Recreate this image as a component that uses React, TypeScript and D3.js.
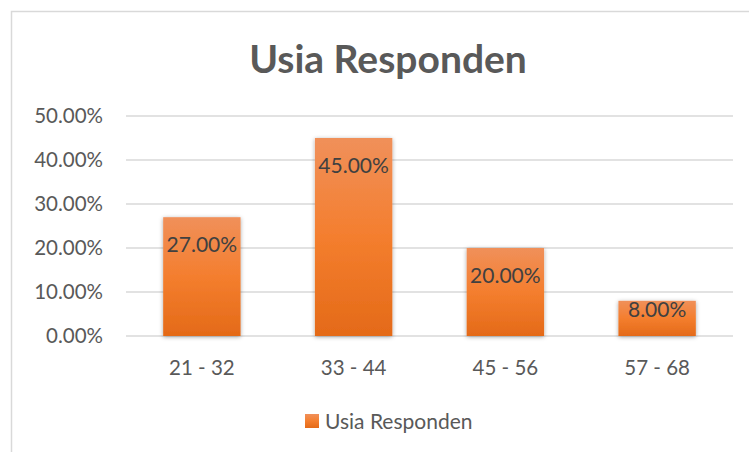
import { useEffect, useRef } from 'react';
import * as d3 from 'd3';

// chart data
const categories = ['21 - 32', '33 - 44', '45 - 56', '57 - 68'];
const values = [0.27, 0.45, 0.2, 0.08];
const yTicks = [0, 0.1, 0.2, 0.3, 0.4, 0.5];
const seriesName = 'Usia Responden';
const title = 'Usia Responden';

const App = () => {
  const svgRef = useRef<SVGSVGElement>(null);

  useEffect(() => {
    const width = 749;
    const height = 452;
    const margin = { top: 116, right: 16, bottom: 116, left: 126 };
    const font = 'Lato, "Open Sans", sans-serif';
    const textColor = '#595959';
    const fontSize = 20.5;

    const svg = d3.select(svgRef.current);
    svg.selectAll('*').remove();
    svg.attr('width', width).attr('height', height);

    const defs = svg.append('defs');
    const grad = defs.append('linearGradient')
      .attr('id', 'barGrad')
      .attr('x1', 0).attr('y1', 0).attr('x2', 0).attr('y2', 1);
    grad.append('stop').attr('offset', '0%').attr('stop-color', '#F0905A');
    grad.append('stop').attr('offset', '50%').attr('stop-color', '#F47E2E');
    grad.append('stop').attr('offset', '100%').attr('stop-color', '#E46A18');

    const shadow = defs.append('filter').attr('id', 'shadow')
      .attr('x', '-20%').attr('y', '-20%').attr('width', '140%').attr('height', '140%');
    shadow.append('feDropShadow')
      .attr('dx', 0).attr('dy', 1).attr('stdDeviation', 2)
      .attr('flood-color', '#000').attr('flood-opacity', 0.35);

    // outer chart border
    svg.append('rect')
      .attr('x', 11.5).attr('y', 11.5)
      .attr('width', width + 20).attr('height', height + 20)
      .attr('fill', 'white')
      .attr('stroke', '#d9d9d9')
      .attr('stroke-width', 1.5);

    const x = d3.scaleBand()
      .domain(categories)
      .range([margin.left, width - margin.right])
      .paddingInner(0.49)
      .paddingOuter(0.245);

    const y = d3.scaleLinear()
      .domain([0, 0.5])
      .range([height - margin.bottom, margin.top]);

    // gridlines
    svg.append('g')
      .selectAll('line')
      .data(yTicks)
      .join('line')
      .attr('x1', margin.left)
      .attr('x2', width - margin.right)
      .attr('y1', d => y(d))
      .attr('y2', d => y(d))
      .attr('stroke', '#d9d9d9')
      .attr('stroke-width', 1.5);

    // y tick labels
    svg.append('g')
      .selectAll('text')
      .data(yTicks)
      .join('text')
      .attr('x', 103)
      .attr('y', d => y(d))
      .attr('dy', '0.36em')
      .attr('text-anchor', 'end')
      .attr('fill', textColor)
      .attr('font-family', font)
      .attr('font-size', fontSize)
      .text(d => d3.format('.2%')(d));

    // bars
    svg.append('g')
      .selectAll('rect')
      .data(values)
      .join('rect')
      .attr('x', (d, i) => x(categories[i]) as number)
      .attr('y', d => y(d))
      .attr('width', x.bandwidth())
      .attr('height', d => y(0) - y(d))
      .attr('fill', 'url(#barGrad)')
      .attr('filter', 'url(#shadow)');

    // data labels, inside end (pulled up on short bars)
    svg.append('g')
      .selectAll('text')
      .data(values)
      .join('text')
      .attr('x', (d, i) => (x(categories[i]) as number) + x.bandwidth() / 2)
      .attr('y', d => y(d) + Math.min(35, (y(0) - y(d)) * 0.46))
      .attr('text-anchor', 'middle')
      .attr('fill', '#404040')
      .attr('font-family', font)
      .attr('font-size', fontSize + 0.5)
      .text(d => d3.format('.2%')(d));

    // x labels
    svg.append('g')
      .selectAll('text')
      .data(categories)
      .join('text')
      .attr('x', d => (x(d) as number) + x.bandwidth() / 2)
      .attr('y', 375)
      .attr('text-anchor', 'middle')
      .attr('fill', textColor)
      .attr('font-family', font)
      .attr('font-size', fontSize)
      .text(d => d);

    // title
    svg.append('text')
      .attr('x', 388)
      .attr('y', 73)
      .attr('text-anchor', 'middle')
      .attr('fill', textColor)
      .attr('font-family', font)
      .attr('font-weight', 'bold')
      .attr('font-size', 39)
      .text(title);

    // legend
    const legend = svg.append('g').attr('transform', 'translate(305, 414)');
    legend.append('rect')
      .attr('width', 14).attr('height', 14)
      .attr('fill', 'url(#barGrad)');
    legend.append('text')
      .attr('x', 20)
      .attr('y', 15)
      .attr('fill', textColor)
      .attr('font-family', font)
      .attr('font-size', fontSize + 0.5)
      .text(seriesName);
  }, []);

  return (
    <svg ref={svgRef} style={{ position: 'absolute', left: 0, top: 0 }}></svg>
  );
};

export default App;
